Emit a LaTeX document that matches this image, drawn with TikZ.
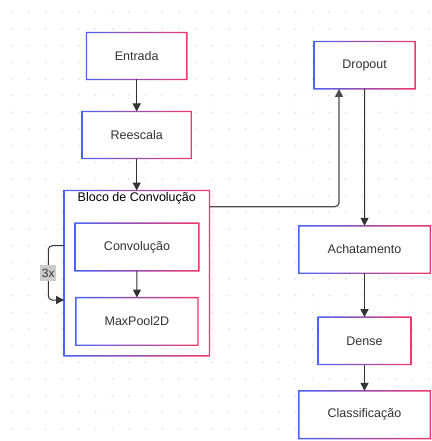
\documentclass[tikz,border=0pt]{standalone}
\usepackage{fontspec}
\setmainfont{Liberation Sans}
\usetikzlibrary{arrows.meta,calc}
\definecolor{gA}{HTML}{4A63F5}
\definecolor{gB}{HTML}{F0386B}
\definecolor{txt}{HTML}{333333}
\definecolor{dotc}{HTML}{D8D8D8}
\definecolor{lab}{HTML}{CCCCCC}
\tikzset{
  box/.style={fill=white, inner sep=0pt, text=txt, font=\fontsize{12.5}{15}\selectfont},
  conn/.style={draw=txt, line width=1pt, -{Triangle[length=8pt,width=8pt]}},
  gradborder/.style={left color=gA, right color=gB, even odd rule},
}
\newcommand{\gbord}[1]{%
  \shade[gradborder]
    ([shift={(-0.7pt,0.7pt)}]#1.north west) rectangle ([shift={(0.7pt,-0.7pt)}]#1.south east)
    ([shift={(0.7pt,-0.7pt)}]#1.north west) rectangle ([shift={(-0.7pt,0.7pt)}]#1.south east);}
\begin{document}
\begin{tikzpicture}[x=1pt,y=-1pt]
\useasboundingbox[fill=white] (0,0) rectangle (431,441);
\foreach \i in {0,...,25} {
  \foreach \j in {0,...,26} {
    \fill[dotc] (12.3+16.67*\i, 12.3+16.67*\j) circle (0.8);
  }
}
% nodes
\node[box, minimum width=100pt, minimum height=46.6pt] (entrada) at (136.7,56) {Entrada};
\node[box, minimum width=108.7pt, minimum height=46.6pt] (reescala) at (136.7,135) {Reescala};
\node[box, minimum width=145pt, minimum height=165pt] (bloco) at (136.8,273.2) {};
\node[box, text=black, anchor=north] (blocolabel) at (136.8,192.5) {Bloco de Convolução};
\node[box, minimum width=123.4pt, minimum height=47.4pt] (conv) at (137,247) {Convolução};
\node[box, minimum width=121.7pt, minimum height=47.3pt] (maxpool) at (136.9,321.4) {MaxPool2D};
\node[box, minimum width=100.7pt, minimum height=47pt] (dropout) at (364.6,65.2) {Dropout};
\node[box, minimum width=131pt, minimum height=47pt] (achat) at (364.5,249.5) {Achatamento};
\node[box, minimum width=92.4pt, minimum height=47pt] (dense) at (364.5,340.8) {Dense};
\node[box, minimum width=131pt, minimum height=47.3pt] (classif) at (364.5,414.7) {Classificação};
% gradient borders
\gbord{entrada}
\gbord{reescala}
\gbord{bloco}
\gbord{conv}
\gbord{maxpool}
\gbord{dropout}
\gbord{achat}
\gbord{dense}
\gbord{classif}
% connectors
\draw[conn] (entrada) -- (reescala);
\draw[conn] (reescala) -- (bloco.north -| reescala.south);
\draw[conn] (conv) -- (maxpool);
\draw[conn, draw=black!70, line width=1.2pt, rounded corners=4pt]
  ([yshift=66.5pt]bloco.east) -| ([xshift=-25.6pt]dropout.south);
\draw[conn] (dropout) -- (achat);
\draw[conn] (achat) -- (dense);
\draw[conn] (dense) -- (classif);
\coordinate (loopx) at (48.3,273.2);
\draw[conn, rounded corners=4pt]
  ([yshift=27.5pt]bloco.west) -| (loopx) |- ([yshift=-26.8pt]bloco.west);
\node[fill=lab, text=txt, inner sep=1.5pt, minimum height=16.5pt, font=\fontsize{12}{14}\selectfont] (three) at (loopx) {3x};
\end{tikzpicture}
\end{document}
